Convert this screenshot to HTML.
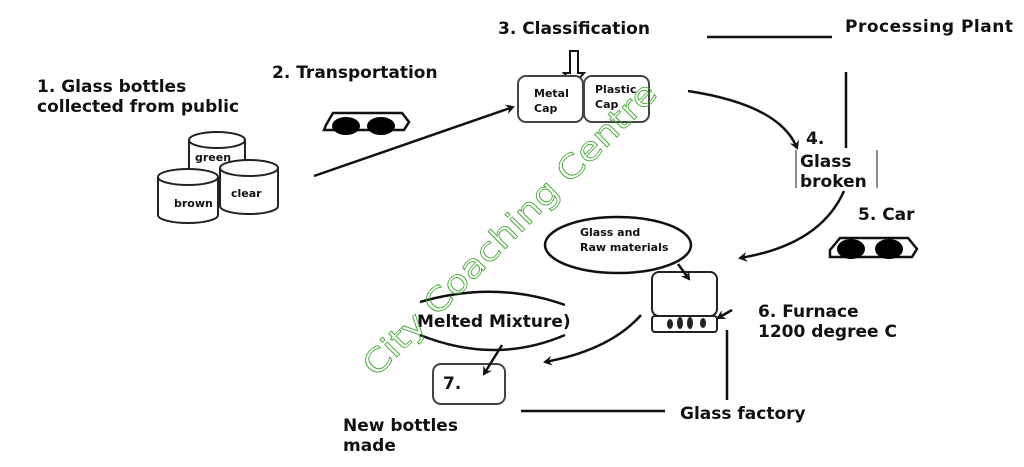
<!DOCTYPE html>
<html><head><meta charset="utf-8"><style>
html,body{margin:0;padding:0;background:#fff;}
svg{display:block;}
text{font-family:"DejaVu Sans","Liberation Sans",sans-serif;fill:#111;}
.b{font-weight:bold;font-size:17px;}
.s{font-weight:bold;font-size:11px;}
</style></head><body>
<svg width="1024" height="467" viewBox="0 0 1024 467" xmlns="http://www.w3.org/2000/svg">
<defs>
<marker id="ah" markerWidth="10" markerHeight="10" refX="7" refY="5" orient="auto" markerUnits="userSpaceOnUse"><path d="M0,0 L9,5 L0,10 L3,5 Z" fill="#111"/></marker>
</defs>
<text class="b" x="37" y="92">1. Glass bottles</text>
<text class="b" x="37" y="112">collected from public</text>
<text class="b" x="272" y="78">2. Transportation</text>
<text class="b" x="498" y="34">3. Classification</text>
<text class="b" x="845" y="32" textLength="168">Processing Plant</text>
<text class="b" x="858" y="220">5. Car</text>
<text class="b" x="758" y="317">6. Furnace</text>
<text class="b" x="758" y="337">1200 degree C</text>
<text class="b" x="680" y="419">Glass factory</text>
<text class="b" x="343" y="431">New bottles</text>
<text class="b" x="343" y="451">made</text>
<!-- cylinders -->
<g fill="#fff" stroke="#222" stroke-width="2">
<path d="M189 140 v38 a28 8 0 0 0 56 0 v-38"/><ellipse cx="217" cy="140" rx="28" ry="8"/>
<path d="M158 177 v38 a30 8 0 0 0 60 0 v-38"/><ellipse cx="188" cy="177" rx="30" ry="8"/>
<path d="M220 168 v38 a29 8 0 0 0 58 0 v-38"/><ellipse cx="249" cy="168" rx="29" ry="8"/>
</g>
<text class="s" x="195" y="161" font-size="10">green</text>
<text class="s" x="174" y="207" font-size="10">brown</text>
<text class="s" x="231" y="197" font-size="10">clear</text>
<!-- cars -->
<g stroke="#111" stroke-width="2.5" fill="none">
<path d="M326 125 L333 113 L402 113 L409 122 L404 130 L324 130 Z"/>
<path d="M830 250 L840 238 L908 238 L917 249 L912 257 L830 257 Z"/>
</g>
<g fill="#000">
<ellipse cx="346" cy="126" rx="14" ry="9"/><ellipse cx="381" cy="126" rx="14" ry="9"/>
<ellipse cx="851" cy="249" rx="14" ry="10"/><ellipse cx="889" cy="249" rx="14" ry="10"/>
</g>
<!-- classification -->
<path d="M570 51 h8 v22 h6 l-10 11 l-10 -11 h6 Z" fill="#fff" stroke="#111" stroke-width="2"/>
<rect x="518" y="76" width="65" height="46" rx="8" fill="#fff" stroke="#444" stroke-width="2"/>
<rect x="584" y="76" width="65" height="46" rx="8" fill="#fff" stroke="#444" stroke-width="2"/>
<text class="s" x="534" y="97">Metal</text><text class="s" x="534" y="112">Cap</text>
<text class="s" x="595" y="93">Plastic</text><text class="s" x="595" y="108">Cap</text>
<!-- glass broken -->
<path d="M796 150 v38 M877 150 v38" stroke="#666" stroke-width="1.5"/>
<text class="b" x="806" y="144" font-size="16">4.</text>
<text class="b" x="800" y="167" font-size="16">Glass</text>
<text class="b" x="800" y="187" font-size="16">broken</text>
<!-- ellipses -->
<ellipse cx="618" cy="245" rx="73" ry="28" fill="none" stroke="#111" stroke-width="2.5"/>
<text class="s" x="580" y="236" font-size="10">Glass and</text>
<text class="s" x="580" y="251" font-size="10">Raw materials</text>
<path d="M420 302 Q495 280 565 305 M420 335 Q495 365 565 335" fill="none" stroke="#111" stroke-width="2.5"/>
<text class="b" x="417" y="327" font-size="16">Melted Mixture)</text>
<!-- furnace -->
<rect x="652" y="272" width="65" height="44" rx="7" fill="#fff" stroke="#222" stroke-width="2"/>
<rect x="652" y="316" width="65" height="16" rx="3" fill="#fff" stroke="#222" stroke-width="2"/>
<g fill="#222"><ellipse cx="670" cy="324" rx="3" ry="5"/><ellipse cx="680" cy="323" rx="3" ry="6"/><ellipse cx="690" cy="323" rx="3" ry="6"/><ellipse cx="703" cy="323" rx="3" ry="5"/></g>
<!-- box 7 -->
<rect x="433" y="364" width="72" height="40" rx="8" fill="#fff" stroke="#444" stroke-width="2"/>
<text class="b" x="443" y="389">7.</text>
<!-- lines -->
<g fill="none" stroke="#111" stroke-width="2.5">
<line x1="707" y1="37" x2="832" y2="37"/>
<line x1="846" y1="72" x2="846" y2="148"/>
<line x1="314" y1="176" x2="513" y2="107" marker-end="url(#ah)"/>
<path d="M688 91 Q780 105 797 148" marker-end="url(#ah)"/>
<path d="M844 191 Q820 245 740 258" marker-end="url(#ah)"/>
<path d="M641 315 Q610 350 545 362" marker-end="url(#ah)"/>
<path d="M502 345 L484 374" marker-end="url(#ah)"/>
<path d="M678 264 L689 279" marker-end="url(#ah)"/>
<path d="M732 310 L718 318" marker-end="url(#ah)"/>
<line x1="727" y1="330" x2="727" y2="400"/>
<line x1="521" y1="411" x2="665" y2="411"/>
</g>
<!-- watermark -->
<text x="0" y="0" transform="translate(376,378) rotate(-45)" font-family="'Liberation Mono',monospace" font-size="32" textLength="400" lengthAdjust="spacingAndGlyphs" style="fill:none;stroke:#3aa82a;stroke-width:0.8">City Coaching Centre</text>
</svg>
</body></html>
